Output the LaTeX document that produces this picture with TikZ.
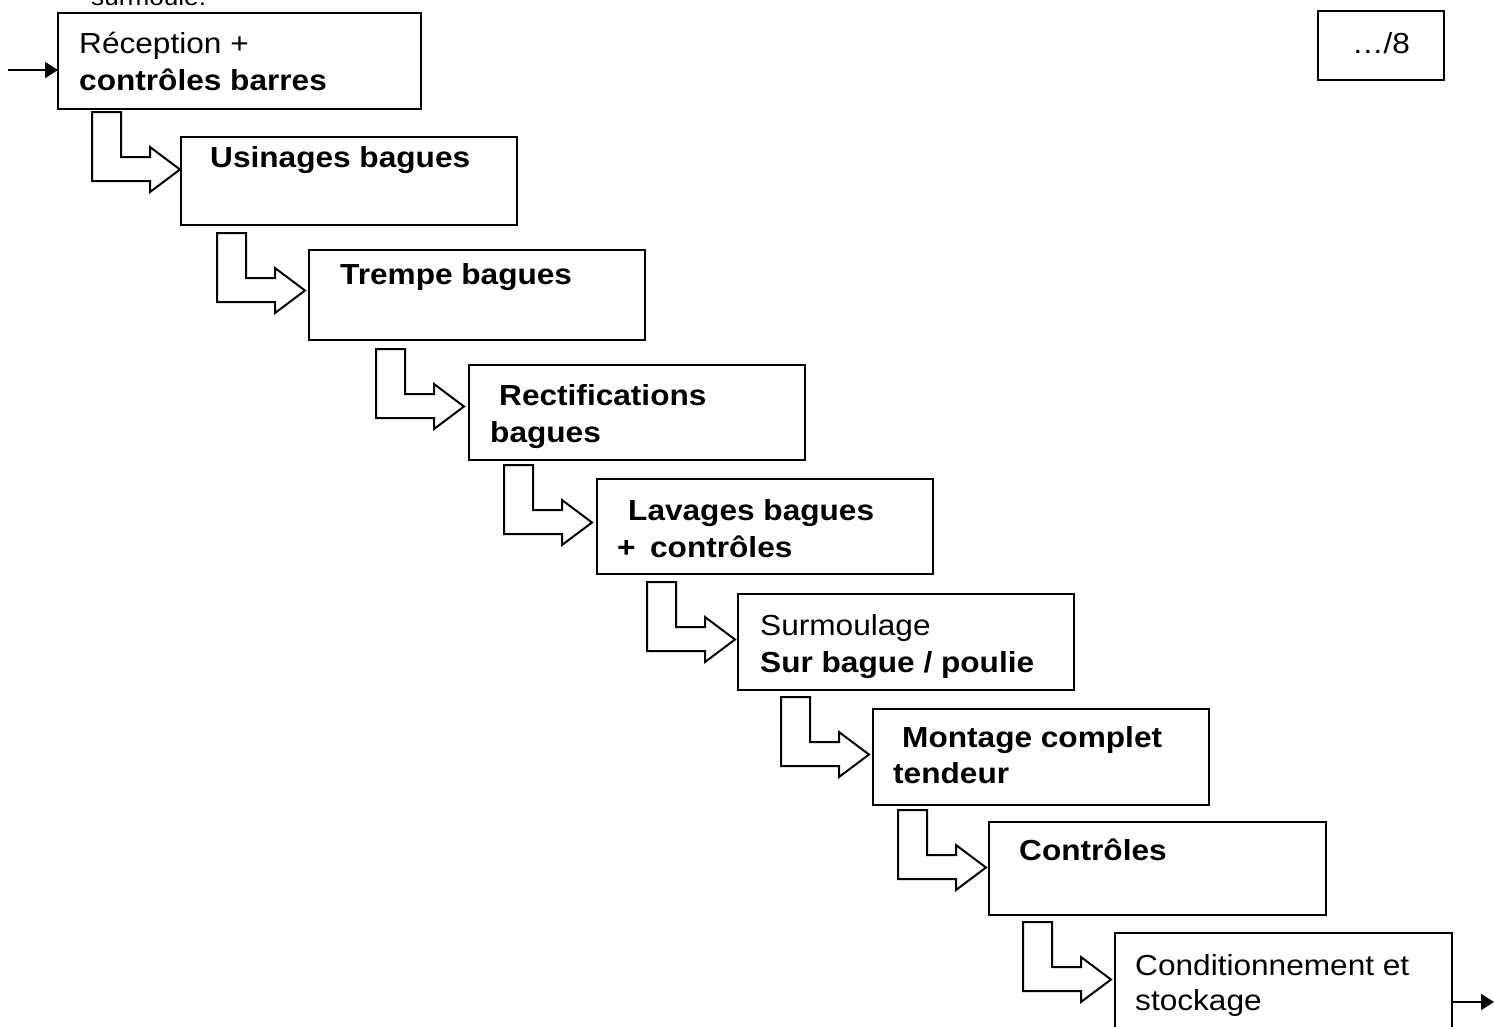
\documentclass[tikz,border=0pt]{standalone}
\usepackage{fontspec}
\setmainfont{Liberation Sans}[FakeStretch=1.09]
\usetikzlibrary{arrows.meta,calc}
\begin{document}
\begin{tikzpicture}[x=1pt,y=-1pt,
  box/.style={draw,line width=2pt,rectangle,inner sep=0pt,outer sep=0pt,anchor=north west},
  txt/.style={anchor=base west,inner sep=0pt,font=\fontsize{29}{35}\selectfont},
  btxt/.style={anchor=base west,inner sep=0pt,font=\fontsize{29}{35}\selectfont\bfseries},
  larrow/.pic={\draw[line width=2pt,line join=miter] (0,0) -- (29,0) -- (29,45) -- (58,45) -- (58,35) -- (88,57.5) -- (58,80) -- (58,69) -- (0,69) -- cycle;},
  flow/.style={line width=2pt,-{Triangle[length=13pt,width=16pt]}}]
\clip (0,0) rectangle (1494,1026);
\fill[white] (0,0) rectangle (1494,1026);
% partially visible text at the top
\node[anchor=base west,inner sep=0pt,font=\fontsize{24}{28}\selectfont] (top) at (91,5) {surmoulé.};
% boxes
\node[box,minimum width=363pt,minimum height=96pt] (b1) at (58,13) {};
\node[box,minimum width=336pt,minimum height=88pt] (b2) at (181,137) {};
\node[box,minimum width=336pt,minimum height=90pt] (b3) at (309,250) {};
\node[box,minimum width=336pt,minimum height=95pt] (b4) at (469,365) {};
\node[box,minimum width=336pt,minimum height=95pt] (b5) at (597,479) {};
\node[box,minimum width=336pt,minimum height=96pt] (b6) at (738,594) {};
\node[box,minimum width=336pt,minimum height=96pt] (b7) at (873,709) {};
\node[box,minimum width=337pt,minimum height=93pt] (b8) at (989,822) {};
\node[box,minimum width=337pt,minimum height=100pt] (b9) at (1115,933) {};
\node[box,minimum width=126pt,minimum height=69pt] (b0) at (1318,11) {};
% texts
\node[txt] (t1a) at (79,53) {Réception +};
\node[btxt] (t1b) at (79,90) {contrôles barres};
\node[btxt] (t2a) at (210,167) {Usinages bagues};
\node[btxt] (t3a) at (340,284) {Trempe bagues};
\node[btxt] (t4a) at (499,405) {Rectifications};
\node[btxt] (t4b) at (490,442) {bagues};
\node[btxt] (t5a) at (628,520) {Lavages bagues};
\node[btxt] (t5b) at (617,557) {+\hspace{0.5em}contrôles};
\node[txt] (t6a) at (760,635) {Surmoulage};
\node[btxt] (t6b) at (760,672) {Sur bague / poulie};
\node[btxt] (t7a) at (902,747) {Montage complet};
\node[btxt] (t7b) at (893,783) {tendeur};
\node[btxt] (t8a) at (1019,860) {Contrôles};
\node[txt] (t9a) at (1135,975) {Conditionnement et};
\node[txt] (t9b) at (1135,1010) {stockage};
\node[txt,anchor=base] (t0) at (1381,53) {…/8};
% L-shaped block arrows
\pic (a1) at (92,112) {larrow};
\pic (a2) at (217,233) {larrow};
\pic (a3) at (376,349) {larrow};
\pic (a4) at (504,465) {larrow};
\pic (a5) at (647,582) {larrow};
\pic (a6) at (781,697) {larrow};
\pic (a7) at (898,810) {larrow};
\pic (a8) at (1023,922) {larrow};
% input and output
\coordinate (in) at (8,70);
\coordinate (out) at (1494,1002);
\draw[flow] (in) -- (in -| b1.west);
\draw[flow] (out -| b9.east) -- (out);
\end{tikzpicture}
\end{document}
